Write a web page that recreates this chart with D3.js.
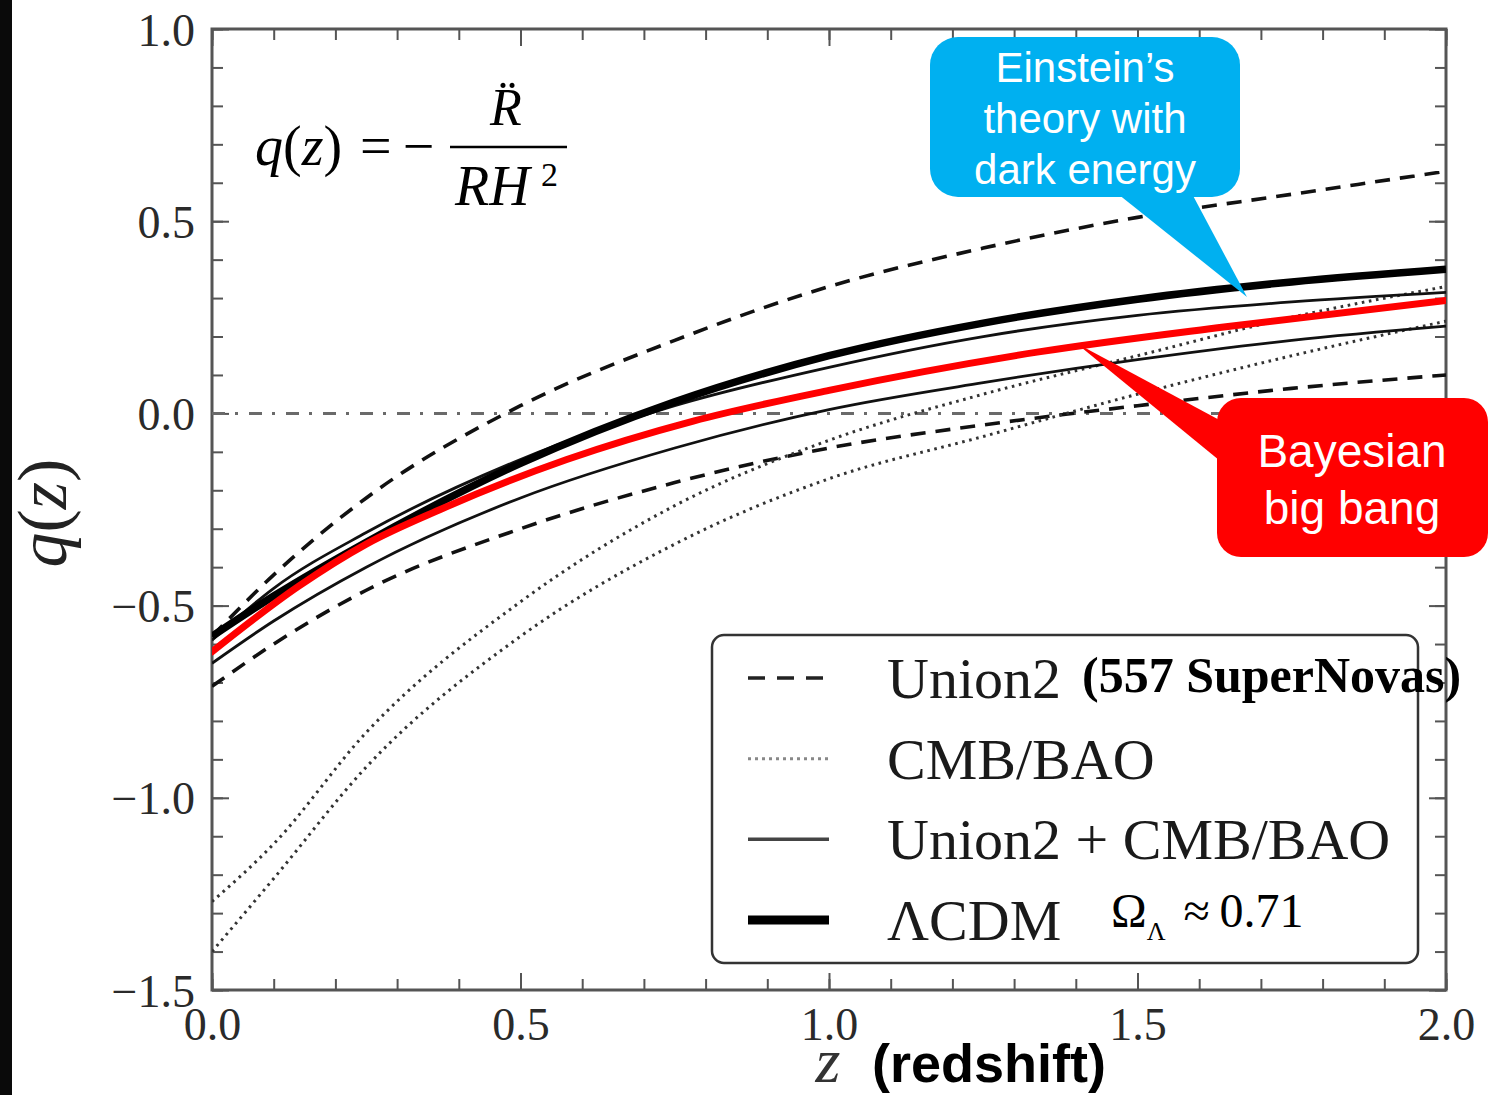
<!DOCTYPE html>
<html>
<head>
    <title>Deceleration parameter q(z)</title>
    <meta charset="utf-8">
    <style>
        body { margin: 0; background: #fff; }
        svg { display: block; }
    </style>
</head>
<body>
<script src="https://d3js.org/d3.v7.min.js"></script>
<script>
    // ---- data ----
    const zTicks = [0, 0.5, 1.0, 1.5, 2.0];
    const qTicks = [-1.5, -1.0, -0.5, 0.0, 0.5, 1.0];

    // common redshift grid for the model curves
    const zGrid = [0, 0.1, 0.25, 0.5, 0.75, 1.0, 1.25, 1.5, 1.75, 2.0];
    const union2Hi = [-0.58, -0.42, -0.22, 0.02, 0.19, 0.33, 0.43, 0.51, 0.57, 0.63];
    const union2Lo = [-0.71, -0.60, -0.46, -0.30, -0.18, -0.09, -0.03, 0.02, 0.065, 0.10];
    const cmbHi = [-1.27, -1.12, -0.83, -0.49, -0.24, -0.07, 0.05, 0.15, 0.25, 0.33];
    const cmbLo = [-1.40, -1.21, -0.92, -0.58, -0.34, -0.17, -0.06, 0.05, 0.15, 0.24];
    const jointHi = [-0.59, -0.455, -0.31, -0.12, 0.02, 0.12, 0.20, 0.255, 0.29, 0.315];
    const jointLo = [-0.65, -0.54, -0.40, -0.22, -0.09, 0.01, 0.08, 0.14, 0.19, 0.227];
    const lcdm = [-0.58, -0.475, -0.335, -0.13, 0.03, 0.15, 0.235, 0.297, 0.342, 0.375];

    // hand drawn red curve
    const bayesZ = [0, 0.14, 0.25, 0.37, 0.575, 0.78, 1.0, 1.34, 1.64, 2.0];
    const bayesQ = [-0.62, -0.45, -0.34, -0.25, -0.12, -0.02, 0.06, 0.16, 0.225, 0.294];

    const legendLabels = ['Union2', 'CMB/BAO', 'Union2 + CMB/BAO', '\u039BCDM'];

    // ---- layout ----
    const W = 1490, H = 1095;
    const PLOT = {left: 212, right: 1446, top: 29, bottom: 990};
    const SERIF = '"Liberation Serif", "Times New Roman", serif';
    const SANS = '"Liberation Sans", Arial, sans-serif';

    const STYLES = {
        dashed: {stroke: '#111', width: 3.6, dash: '15,10'},
        dotted: {stroke: '#333', width: 3, dash: '2.6,4.6'},
        thin: {stroke: '#111', width: 2.8, dash: null},
        thick: {stroke: '#000', width: 7.5, dash: null}
    };

    const x = d3.scaleLinear().domain([0, 2]).range([PLOT.left, PLOT.right]);
    const y = d3.scaleLinear().domain([-1.5, 1]).range([PLOT.bottom, PLOT.top]);

    const svg = d3.select('body').append('svg')
        .attr('width', W)
        .attr('height', H);

    // black strip on the left edge
    svg.append('rect').attr('x', 0).attr('y', 0).attr('width', 12).attr('height', H).attr('fill', '#0a0a0a');

    svg.append('defs').append('clipPath').attr('id', 'plot-clip')
        .append('rect')
        .attr('x', PLOT.left).attr('y', PLOT.top)
        .attr('width', PLOT.right - PLOT.left).attr('height', PLOT.bottom - PLOT.top);

    // ---- axes (ticks pointing inward on all four sides) ----
    const fmt = d3.format('.1f');
    const minorZ = x.ticks(20);
    const minorQ = y.ticks(25);

    function styleAxis(g) {
        g.select('.domain').remove();
        g.selectAll('.tick line').attr('stroke', '#555').attr('stroke-width', 2);
        g.selectAll('.tick text').attr('fill', '#2a2a2a').style('font-family', SERIF).style('font-size', '46px');
    }

    const axes = [
        [d3.axisBottom(x), PLOT.bottom, 0, zTicks, minorZ, true],
        [d3.axisTop(x), PLOT.top, 0, zTicks, minorZ, false],
        [d3.axisLeft(y), 0, PLOT.left, qTicks, minorQ, true],
        [d3.axisRight(y), 0, PLOT.right, qTicks, minorQ, false]
    ];
    axes.forEach(([axis, ty, tx, major, minor, labels]) => {
        svg.append('g')
            .attr('transform', `translate(${tx},${ty})`)
            .call(axis.tickValues(minor).tickSize(-11).tickFormat(''))
            .call(styleAxis);
        svg.append('g')
            .attr('class', labels ? 'major-labeled' : 'major')
            .attr('transform', `translate(${tx},${ty})`)
            .call(axis.tickValues(major).tickSize(-17).tickPadding(labels ? 17 : 0)
                .tickFormat(labels ? fmt : ''))
            .call(styleAxis);
    });
    // nudge the labels to sit like the original
    svg.selectAll('.major-labeled .tick text').attr('dy', null);
    svg.selectAll('.major-labeled').filter((d, i) => i === 0)
        .selectAll('.tick text').attr('y', 50);
    svg.selectAll('.major-labeled').filter((d, i) => i === 1)
        .selectAll('.tick text').attr('y', 16);

    // frame
    svg.append('rect')
        .attr('x', PLOT.left).attr('y', PLOT.top)
        .attr('width', PLOT.right - PLOT.left).attr('height', PLOT.bottom - PLOT.top)
        .attr('fill', 'none').attr('stroke', '#555').attr('stroke-width', 3);

    // ---- curves ----
    const plot = svg.append('g').attr('clip-path', 'url(#plot-clip)');

    // q = 0 reference line
    plot.append('line')
        .attr('x1', x(0)).attr('x2', x(2))
        .attr('y1', y(0)).attr('y2', y(0))
        .attr('stroke', '#6a6a6a').attr('stroke-width', 3)
        .attr('stroke-dasharray', '13,10,3,11');

    const smooth = d3.line().x(d => x(d[0])).y(d => y(d[1])).curve(d3.curveMonotoneX);

    const curves = [
        {values: union2Hi, style: 'dashed'},
        {values: union2Lo, style: 'dashed'},
        {values: cmbHi, style: 'dotted'},
        {values: cmbLo, style: 'dotted'},
        {values: jointHi, style: 'thin'},
        {values: jointLo, style: 'thin'},
        {values: lcdm, style: 'thick'}
    ];

    plot.selectAll('path.model')
        .data(curves)
        .enter()
        .append('path')
        .attr('class', 'model')
        .attr('fill', 'none')
        .attr('d', d => smooth(d3.zip(zGrid, d.values)))
        .attr('stroke', d => STYLES[d.style].stroke)
        .attr('stroke-width', d => STYLES[d.style].width)
        .attr('stroke-dasharray', d => STYLES[d.style].dash);

    plot.append('path')
        .attr('fill', 'none')
        .attr('stroke', '#ff0000')
        .attr('stroke-width', 7)
        .attr('stroke-linejoin', 'round')
        .attr('stroke-linecap', 'round')
        .attr('d', smooth(d3.zip(bayesZ, bayesQ)));

    // ---- axis labels ----
    svg.append('text')
        .attr('transform', 'translate(66,513) rotate(-90)')
        .attr('text-anchor', 'middle')
        .style('font-family', SERIF).style('font-size', '70px').attr('fill', '#222')
        .call(t => {
            t.append('tspan').style('font-style', 'italic').text('q');
            t.append('tspan').text('(');
            t.append('tspan').style('font-style', 'italic').text('z');
            t.append('tspan').text(')');
        });

    svg.append('text')
        .attr('x', 828).attr('y', 1082)
        .attr('text-anchor', 'middle')
        .style('font-family', SERIF).style('font-size', '64px').style('font-style', 'italic')
        .attr('fill', '#333')
        .text('z');
    svg.append('text')
        .attr('x', 872).attr('y', 1082)
        .style('font-family', SANS).style('font-size', '54px').style('font-weight', 'bold')
        .attr('fill', '#000')
        .text('(redshift)');

    // ---- formula ----
    const formula = svg.append('g').style('font-family', SERIF).attr('fill', '#000');
    formula.append('text')
        .attr('x', 255).attr('y', 165)
        .style('font-size', '56px')
        .call(t => {
            t.append('tspan').style('font-style', 'italic').text('q');
            t.append('tspan').text('(');
            t.append('tspan').style('font-style', 'italic').text('z');
            t.append('tspan').text(')');
        });
    formula.append('text').attr('x', 360).attr('y', 165).style('font-size', '56px').text('=\u2009\u2212');
    formula.append('line')
        .attr('x1', 450).attr('x2', 567).attr('y1', 147).attr('y2', 147)
        .attr('stroke', '#000').attr('stroke-width', 2.5);
    formula.append('text').attr('x', 490).attr('y', 125)
        .style('font-size', '52px').style('font-style', 'italic').text('R\u0308');
    formula.append('text').attr('x', 455).attr('y', 205)
        .style('font-size', '56px').style('font-style', 'italic').text('RH');
    formula.append('text').attr('x', 541).attr('y', 186)
        .style('font-size', '34px').text('2');

    // ---- legend ----
    const legend = svg.append('g');
    legend.append('rect')
        .attr('x', 712).attr('y', 635).attr('width', 706).attr('height', 328)
        .attr('rx', 12)
        .attr('fill', '#fff').attr('stroke', '#333').attr('stroke-width', 2.5);

    const legendStyles = [
        {stroke: '#222', width: 3.5, dash: '17,12'},
        {stroke: '#888', width: 3, dash: '3,4'},
        {stroke: '#444', width: 3.5, dash: null},
        {stroke: '#000', width: 9, dash: null}
    ];
    const rowY = d3.scalePoint().domain(legendLabels).range([678, 920]);

    const rows = legend.selectAll('g.row')
        .data(legendLabels)
        .enter()
        .append('g')
        .attr('class', 'row')
        .attr('transform', d => `translate(0,${rowY(d)})`);
    rows.append('line')
        .attr('x1', 748).attr('x2', 829).attr('y1', 0).attr('y2', 0)
        .attr('stroke', (d, i) => legendStyles[i].stroke)
        .attr('stroke-width', (d, i) => legendStyles[i].width)
        .attr('stroke-dasharray', (d, i) => legendStyles[i].dash);
    rows.append('text')
        .attr('x', 887).attr('y', 20)
        .style('font-family', SERIF).style('font-size', '58px')
        .attr('fill', '#1a1a1a')
        .text(d => d);

    svg.append('text')
        .attr('x', 1082).attr('y', 692)
        .style('font-family', SERIF).style('font-size', '50px').style('font-weight', 'bold')
        .attr('fill', '#000')
        .text('(557 SuperNovas)');

    svg.append('text')
        .attr('x', 1111).attr('y', 927)
        .style('font-family', SERIF).style('font-size', '48px').attr('fill', '#000')
        .call(t => {
            t.append('tspan').text('\u03A9');
            t.append('tspan').attr('dy', 13).style('font-size', '26px').text('\u039B');
            t.append('tspan').attr('dy', -13).attr('dx', 18).text('\u2248\u20090.71');
        });

    // ---- callouts ----
    const blue = svg.append('g').attr('fill', '#00b0f0');
    blue.append('rect').attr('x', 930).attr('y', 37).attr('width', 310).attr('height', 160).attr('rx', 28);
    blue.append('path').attr('d', 'M1113,190 L1190,190 L1247,297 Z');
    const blueText = ['Einstein\u2019s', 'theory with', 'dark energy'];
    svg.append('g').selectAll('text')
        .data(blueText)
        .enter()
        .append('text')
        .attr('x', 1085)
        .attr('y', (d, i) => 82 + i * 51)
        .attr('text-anchor', 'middle')
        .style('font-family', SANS).style('font-size', '42px')
        .attr('fill', '#fff')
        .text(d => d);

    const red = svg.append('g').attr('fill', '#ff0000');
    red.append('rect').attr('x', 1217).attr('y', 398).attr('width', 271).attr('height', 159).attr('rx', 24);
    red.append('path').attr('d', 'M1225,423 L1076,343 L1225,465 Z');
    const redText = ['Bayesian', 'big bang'];
    svg.append('g').selectAll('text')
        .data(redText)
        .enter()
        .append('text')
        .attr('x', 1352)
        .attr('y', (d, i) => 467 + i * 57)
        .attr('text-anchor', 'middle')
        .style('font-family', SANS).style('font-size', '46px')
        .attr('fill', '#fff')
        .text(d => d);
</script>
</body>
</html>
